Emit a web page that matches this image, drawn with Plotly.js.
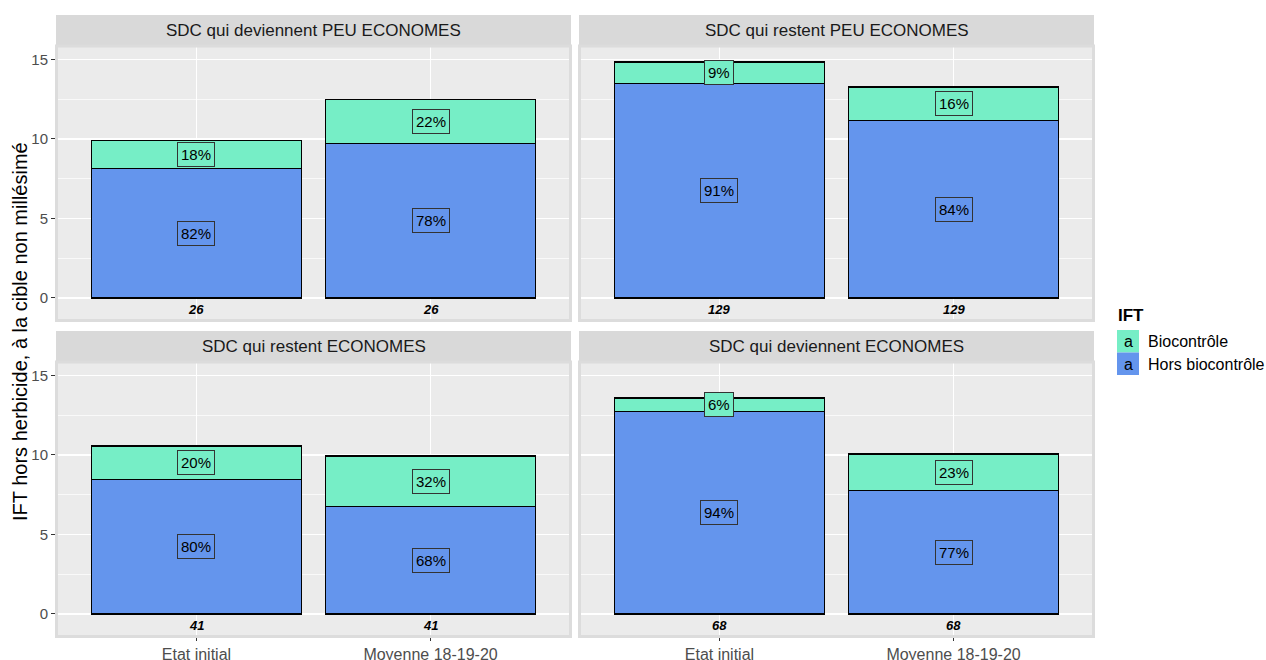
<!DOCTYPE html>
<html>
<head>
<meta charset="utf-8">
<script src="https://cdn.plot.ly/plotly-3.0.1.min.js"></script>
<style>html,body{margin:0;padding:0;background:#fff;}#chart{width:1266px;height:660px;}</style>
</head>
<body>
<div id="chart"></div>
<script>
// ---- data ----
const categories = ["Etat initial", "Moyenne 18-19-20"];
const panelTitles = [
  "SDC qui deviennent PEU ECONOMES",
  "SDC qui restent PEU ECONOMES",
  "SDC qui restent ECONOMES",
  "SDC qui deviennent ECONOMES"
];
const horsBiocontrole = [
  [8.12, 9.72],
  [13.50, 11.15],
  [8.45, 6.75],
  [12.75, 7.75]
];
const biocontrole = [
  [1.78, 2.78],
  [1.34, 2.12],
  [2.12, 3.19],
  [0.83, 2.31]
];
const horsPct = [["82%", "78%"], ["91%", "84%"], ["80%", "68%"], ["94%", "77%"]];
const bioPct = [["18%", "22%"], ["9%", "16%"], ["20%", "32%"], ["6%", "23%"]];
const counts = [["26", "26"], ["129", "129"], ["41", "41"], ["68", "68"]];
const yTicks = [0, 5, 10, 15];
const seriesNames = ["Biocontrôle", "Hors biocontrôle"];
const colBio = "#76EEC6";
const colHors = "#6495ED";

// ---- layout geometry (pixels) ----
const W = 1266, H = 660;
const px = x => x / W;
const py = y => 1 - y / H;
const cols = [[56, 571], [579, 1094]];
const rows = [{strip: [15, 46], plot: [46, 321]}, {strip: [331, 362], plot: [362, 637]}];
const FONT = "Liberation Sans, Arial, sans-serif";

const traces = [];
const annotations = [];
const shapes = [];
const layout = {
  width: W, height: H,
  margin: {l: 0, r: 0, t: 0, b: 0},
  paper_bgcolor: "#ffffff",
  plot_bgcolor: "#EBEBEB",
  showlegend: false,
  barmode: "stack",
  font: {family: FONT, color: "#4d4d4d"},
  hovermode: false
};

for (let p = 0; p < 4; p++) {
  const r = Math.floor(p / 2), c = p % 2;
  const sfx = p === 0 ? "" : String(p + 1);
  const xa = "x" + sfx, ya = "y" + sfx;
  const col = cols[c], row = rows[r];

  layout["xaxis" + sfx] = {
    domain: [px(col[0]), px(col[1])],
    anchor: ya,
    type: "category",
    categoryorder: "array",
    categoryarray: categories,
    range: [-0.6, 1.6],
    showgrid: true, gridcolor: "#ffffff", gridwidth: 1.5,
    zeroline: false, showline: false,
    ticks: r === 1 ? "outside" : "",
    ticklen: 3, tickcolor: "#333333", tickwidth: 1,
    showticklabels: r === 1,
    tickfont: {size: 16, color: "#4d4d4d", family: FONT},
    fixedrange: true
  };
  layout["yaxis" + sfx] = {
    domain: [py(row.plot[1]), py(row.plot[0])],
    anchor: xa,
    range: [-1.45, 15.85],
    tickvals: yTicks,
    ticktext: yTicks.map(String),
    showgrid: true, gridcolor: "#ffffff", gridwidth: 1.5,
    minor: {dtick: 2.5, tick0: 0, showgrid: true, gridcolor: "#ffffff", gridwidth: 0.7},
    zeroline: false, showline: false,
    ticks: c === 0 ? "outside" : "",
    ticklen: 4, tickcolor: "#333333", tickwidth: 1,
    showticklabels: c === 0,
    tickfont: {size: 15, color: "#4d4d4d", family: FONT},
    fixedrange: true
  };

  traces.push({
    type: "bar", x: categories, y: horsBiocontrole[p], name: seriesNames[1],
    xaxis: xa, yaxis: ya, width: 0.9,
    marker: {color: colHors, line: {color: "#000000", width: 1.2}}
  });
  traces.push({
    type: "bar", x: categories, y: biocontrole[p], name: seriesNames[0],
    xaxis: xa, yaxis: ya, width: 0.9,
    marker: {color: colBio, line: {color: "#000000", width: 1.2}}
  });

  for (let i = 0; i < categories.length; i++) {
    const h = horsBiocontrole[p][i], b = biocontrole[p][i];
    annotations.push({
      xref: xa, yref: ya, x: categories[i], y: h / 2,
      text: horsPct[p][i], showarrow: false,
      font: {size: 15, color: "#000000", family: FONT},
      bgcolor: colHors, bordercolor: "#333333", borderwidth: 1, borderpad: 3
    });
    annotations.push({
      xref: xa, yref: ya, x: categories[i], y: h + b / 2,
      text: bioPct[p][i], showarrow: false,
      font: {size: 15, color: "#000000", family: FONT},
      bgcolor: colBio, bordercolor: "#333333", borderwidth: 1, borderpad: 3
    });
    annotations.push({
      xref: xa, yref: ya, x: categories[i], y: -0.75,
      text: "<b><i>" + counts[p][i] + "</i></b>", showarrow: false,
      font: {size: 13, color: "#000000", family: FONT}
    });
  }

  // strip
  shapes.push({
    type: "rect", xref: "paper", yref: "paper",
    x0: px(col[0]), x1: px(col[1]), y0: py(row.strip[1]), y1: py(row.strip[0]),
    fillcolor: "#D9D9D9", line: {width: 0}, layer: "below"
  });
  // panel border
  shapes.push({
    type: "rect", xref: "paper", yref: "paper",
    x0: px(col[0] + 0.5), x1: px(col[1] - 0.5), y0: py(row.plot[1] - 0.5), y1: py(row.plot[0]),
    fillcolor: "rgba(0,0,0,0)", line: {width: 3, color: "#DCDCDC"}, layer: "above"
  });
  annotations.push({
    xref: "paper", yref: "paper",
    x: px((col[0] + col[1]) / 2), y: py((row.strip[0] + row.strip[1]) / 2),
    text: panelTitles[p], showarrow: false,
    font: {size: 17, color: "#1a1a1a", family: FONT},
    xanchor: "center", yanchor: "middle"
  });
}

// y-axis title
annotations.push({
  xref: "paper", yref: "paper", x: px(20), y: py(332),
  text: "IFT hors herbicide, à la cible non millésimé", showarrow: false,
  textangle: -90, font: {size: 20, color: "#000000", family: FONT},
  xanchor: "center", yanchor: "middle"
});

// legend (ggplot style keys)
annotations.push({
  xref: "paper", yref: "paper", x: px(1116), y: py(315),
  text: "<b>IFT</b>", showarrow: false, xanchor: "left", yanchor: "middle",
  font: {size: 17, color: "#000000", family: FONT}
});
const legendCols = [colBio, colHors];
for (let k = 0; k < 2; k++) {
  const top = 330 + k * 22.5;
  shapes.push({
    type: "rect", xref: "paper", yref: "paper",
    x0: px(1117), x1: px(1139), y0: py(top + 22.5), y1: py(top),
    fillcolor: legendCols[k], line: {width: 0}
  });
  annotations.push({
    xref: "paper", yref: "paper", x: px(1128), y: py(top + 11.5),
    text: "a", showarrow: false, xanchor: "center", yanchor: "middle",
    font: {size: 16, color: "#000000", family: FONT}
  });
  annotations.push({
    xref: "paper", yref: "paper", x: px(1146), y: py(top + 11.5),
    text: seriesNames[k], showarrow: false, xanchor: "left", yanchor: "middle",
    font: {size: 16, color: "#000000", family: FONT}
  });
}

layout.annotations = annotations;
layout.shapes = shapes;

Plotly.newPlot("chart", traces, layout, {displayModeBar: false, staticPlot: true});
</script>
</body>
</html>
